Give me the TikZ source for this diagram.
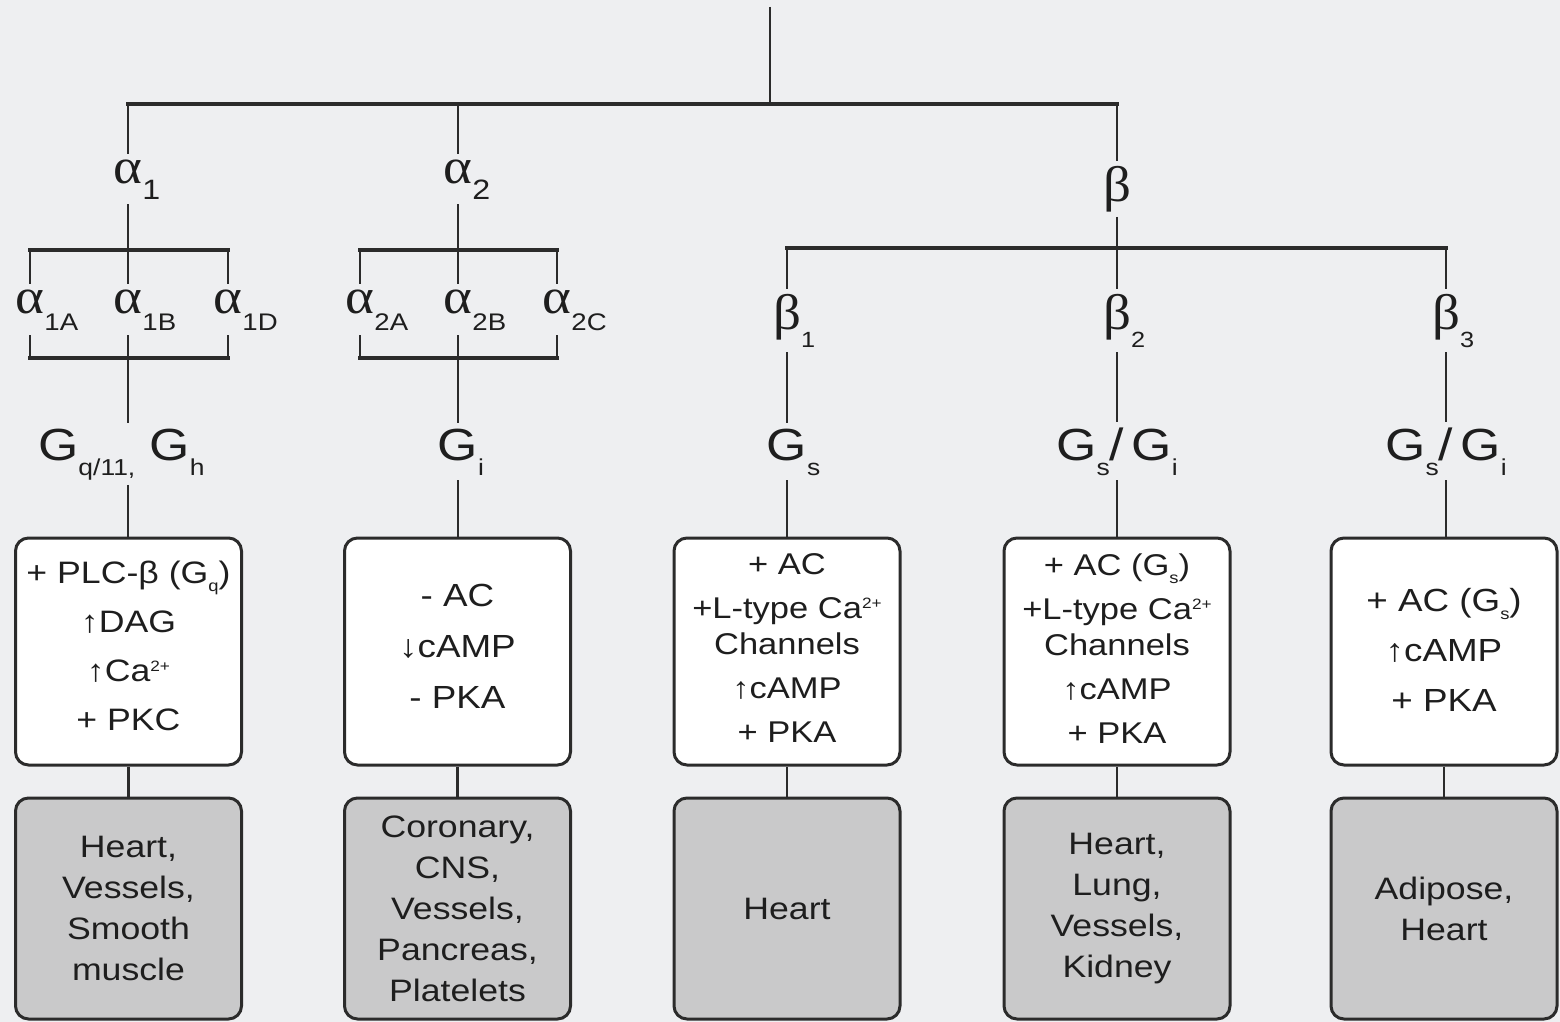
\documentclass[tikz,border=0pt]{standalone}
\usepackage{fontspec}
\setmainfont{Liberation Sans}[FakeStretch=1.15]
\newfontfamily\grk{Liberation Serif}[FakeStretch=1.1]
\definecolor{bgc}{HTML}{EEEFF1}
\definecolor{lnc}{HTML}{2B2B2B}
\definecolor{txc}{HTML}{1E1E1E}
\definecolor{gfc}{HTML}{C9C9CA}
\newcommand\gsb[1]{\raisebox{-15pt}{\fontsize{23}{23}\selectfont #1}}
\newcommand\gk[1]{{\fontsize{50}{50}\grk #1}}
\newcommand\gsub[4]{\gk{#1}\rlap{\raisebox{-#4}{\fontsize{#3}{#3}\selectfont #2}}}
\newcommand\bsub[1]{\raisebox{-8pt}{\fontsize{16}{16}\selectfont #1}}
\newcommand\sps[1]{\raisebox{10pt}{\fontsize{15}{15}\selectfont #1}}
\tikzset{
  glab/.style={inner sep=5pt, text=txc, anchor=base},
  gprot/.style={glab, font=\fontsize{45}{45}\selectfont},
  hl/.style={line width=4pt, draw=lnc, line cap=rect},
  vl/.style={line width=2.6pt, draw=lnc},
  wbox/.style={draw=lnc, line width=3pt, rounded corners=13pt, fill=white,
    minimum width=226pt, minimum height=227pt, inner sep=0pt},
  btxt/.style={align=center, inner sep=0pt, text=txc},
  tbox/.style={wbox, fill=gfc, minimum height=221pt, align=center, text=txc,
    font=\fontsize{31}{41}\selectfont},
}
\begin{document}
\begin{tikzpicture}[x=1pt,y=-1pt]
\fill[bgc] (0,0) rectangle (1560,1022);
\useasboundingbox (0,0) rectangle (1560,1022);

% top
\coordinate (top) at (770,7);
\coordinate (j0) at (770,104);

% first level
\node[glab] (a1) at (128,183) {\gsub{α}{1}{28}{16pt}};
\node[glab] (a2) at (458,183) {\gsub{α}{2}{28}{16pt}};
\node[glab] (b)  at (1117,201) {\gk{β}};

% bracket coordinates
\coordinate (h1t) at (128,250);
\coordinate (h1b) at (128,358);
\coordinate (h2t) at (458,250);
\coordinate (h2b) at (458,358);
\coordinate (hbt) at (1117,248);

% subtypes
\node[glab] (a1A) at (30,313)  {\gsub{α}{1A}{24}{17pt}};
\node[glab] (a1B) at (128,313) {\gsub{α}{1B}{24}{17pt}};
\node[glab] (a1D) at (228,313) {\gsub{α}{1D}{24}{17pt}};
\node[glab] (a2A) at (360,313) {\gsub{α}{2A}{24}{17pt}};
\node[glab] (a2B) at (458,313) {\gsub{α}{2B}{24}{17pt}};
\node[glab] (a2C) at (557,313) {\gsub{α}{2C}{24}{17pt}};
\node[glab] (b1) at (787,329)  {\gsub{β}{1}{22}{18pt}};
\node[glab] (b2) at (1117,329) {\gsub{β}{2}{22}{18pt}};
\node[glab] (b3) at (1446,329) {\gsub{β}{3}{22}{18pt}};

% G proteins
\node[gprot] (g1) at (128,460) {\llap{G\gsb{q/11}}\rlap{\gsb{,}\ G\gsb{h}}\vphantom{G}};
\node[gprot] (g2) at (458,460) {G\rlap{\gsb{i}}};
\node[gprot] (g3) at (787,460) {G\rlap{\gsb{s}}};
\node[gprot] (g4) at (1117,460) {\llap{G\gsb{s}}/\rlap{\,G\gsb{i}}};
\node[gprot] (g5) at (1446,460) {\llap{G\gsb{s}}/\rlap{\,G\gsb{i}}};

% effector boxes
\node[wbox] (w1) at (128.5,651.5) {};
\node[wbox] (w2) at (457.5,651.5) {};
\node[wbox] (w3) at (787,651.5) {};
\node[wbox] (w4) at (1117,651.5) {};
\node[wbox] (w5) at (1444,651.5) {};
\node[btxt, font=\fontsize{31}{49}\selectfont] (w1t) at (128.5,646)
  {+ PLC-β (G\bsub{q})\\ ↑DAG\\ ↑Ca\sps{2+}\\ + PKC};
\node[btxt, font=\fontsize{32}{51}\selectfont] (w2t) at (457.5,646)
  {- AC\\ ↓cAMP\\ - PKA};
\node[btxt, font=\fontsize{30}{44}\selectfont] (w3t) at (787,648)
  {+ AC\\ +L-type Ca\sps{2+}\\[-8pt] Channels\\ ↑cAMP\\ + PKA};
\node[btxt, font=\fontsize{30}{44}\selectfont] (w4t) at (1117,649)
  {+ AC (G\bsub{s})\\ +L-type Ca\sps{2+}\\[-8pt] Channels\\ ↑cAMP\\ + PKA};
\node[btxt, font=\fontsize{32}{50}\selectfont] (w5t) at (1444,650)
  {+ AC (G\bsub{s})\\ ↑cAMP\\ + PKA};

% tissue boxes
\node[tbox] (k1) at (128.5,908.5) {Heart,\\ Vessels,\\ Smooth\\ muscle};
\node[tbox] (k2) at (457.5,908.5) {Coronary,\\ CNS,\\ Vessels,\\ Pancreas,\\ Platelets};
\node[tbox] (k3) at (787,908.5) {Heart};
\node[tbox] (k4) at (1117,908.5) {Heart,\\ Lung,\\ Vessels,\\ Kidney};
\node[tbox] (k5) at (1444,908.5) {Adipose,\\ Heart};

% connectors: top level
\draw[vl] (top) -- (j0);
\draw[hl] (a1 |- j0) -- (b |- j0);
\draw[vl] (a1 |- j0) -- (a1);
\draw[vl] (a2 |- j0) -- (a2);
\draw[vl] (b |- j0) -- (b);

% alpha1 bracket
\draw[vl] (a1) -- (a1B);
\draw[hl] (a1A |- h1t) -- (a1D |- h1t);
\draw[vl] (a1A |- h1t) -- (a1A);
\draw[vl] (a1D |- h1t) -- (a1D);
\draw[vl] (a1A) -- (a1A |- h1b);
\draw[vl] (a1D) -- (a1D |- h1b);
\draw[hl] (a1A |- h1b) -- (a1D |- h1b);
\draw[vl] (a1B) -- (a1B |- g1.north);

% alpha2 bracket
\draw[vl] (a2) -- (a2B);
\draw[hl] (a2A |- h2t) -- (a2C |- h2t);
\draw[vl] (a2A |- h2t) -- (a2A);
\draw[vl] (a2C |- h2t) -- (a2C);
\draw[vl] (a2A) -- (a2A |- h2b);
\draw[vl] (a2C) -- (a2C |- h2b);
\draw[hl] (a2A |- h2b) -- (a2C |- h2b);
\draw[vl] (a2B) -- (g2);

% beta bracket
\draw[vl] (b) -- (b2);
\draw[hl] (b1 |- hbt) -- (b3 |- hbt);
\draw[vl] (b1 |- hbt) -- (b1);
\draw[vl] (b3 |- hbt) -- (b3);
\draw[vl] (b1) -- (g3);
\draw[vl] (b2) -- (g4);
\draw[vl] (b3) -- (g5);

% G to boxes
\draw[vl] (g1) -- (g1 |- w1.north);
\draw[vl] (g2) -- (g2 |- w2.north);
\draw[vl] (g3) -- (g3 |- w3.north);
\draw[vl] (g4) -- (g4 |- w4.north);
\draw[vl] (g5) -- (g5 |- w5.north);

% boxes to tissues
\draw[vl] (w1) -- (k1);
\draw[vl] (w2) -- (k2);
\draw[vl] (w3) -- (k3);
\draw[vl] (w4) -- (k4);
\draw[vl] (w5) -- (k5);
\end{tikzpicture}
\end{document}
